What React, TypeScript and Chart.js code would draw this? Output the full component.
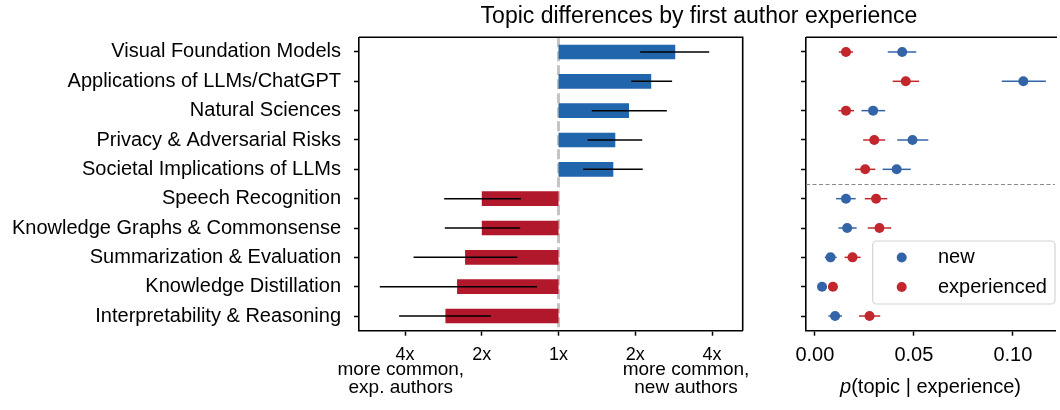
import React, { useEffect, useRef } from 'react';
import { Chart, registerables } from 'chart.js';

Chart.register(...registerables);

// ---------- data ----------
const categories = [
  'Visual Foundation Models',
  'Applications of LLMs/ChatGPT',
  'Natural Sciences',
  'Privacy & Adversarial Risks',
  'Societal Implications of LLMs',
  'Speech Recognition',
  'Knowledge Graphs & Commonsense',
  'Summarization & Evaluation',
  'Knowledge Distillation',
  'Interpretability & Reasoning',
];

// ratio p(new)/p(experienced)
const ratio = [2.87, 2.31, 1.89, 1.67, 1.64, 0.5, 0.5, 0.43, 0.4, 0.36];
const ratioLow = [2.09, 1.93, 1.35, 1.3, 1.25, 0.356, 0.358, 0.27, 0.199, 0.237];
const ratioHigh = [3.9, 2.79, 2.66, 2.13, 2.14, 0.712, 0.707, 0.69, 0.823, 0.543];

const ratioTickValues = [0.25, 0.5, 1, 2, 4];
const ratioTickLabels = ['4x', '2x', '1x', '2x', '4x'];

const pNew = [0.0441, 0.1053, 0.0294, 0.0493, 0.0413, 0.0157, 0.0163, 0.0079, 0.0036, 0.0102];
const pNewLow = [0.0368, 0.0944, 0.0235, 0.0416, 0.0342, 0.0107, 0.0119, 0.005, 0.0013, 0.0068];
const pNewHigh = [0.0512, 0.1167, 0.0355, 0.0573, 0.0484, 0.0206, 0.0211, 0.011, 0.0061, 0.0137];

const pExp = [0.0157, 0.0459, 0.0157, 0.03, 0.0254, 0.0309, 0.0326, 0.019, 0.0091, 0.0276];
const pExpLow = [0.0121, 0.0393, 0.0119, 0.0244, 0.0203, 0.0252, 0.0267, 0.015, 0.0066, 0.0223];
const pExpHigh = [0.0193, 0.0527, 0.0198, 0.0355, 0.0305, 0.0366, 0.0385, 0.0231, 0.0116, 0.033];

const pTickValues = [0, 0.05, 0.1];

const seriesNames = ['new', 'experienced'];

// ---------- styles ----------
const FONT = "'Liberation Sans', Arial, Helvetica, sans-serif";
const BLUE_BAR = '#2166ac';
const RED_BAR = '#b2182b';
const BLUE_PT = '#3464a8';
const RED_PT = '#c1272d';
const SPINE = 1.6;

const leftPlugin = {
  id: 'leftDeco',
  beforeDatasetsDraw(chart: any) {
    const { ctx, chartArea } = chart;
    const x = chart.scales.x.getPixelForValue(1);
    ctx.save();
    ctx.strokeStyle = '#c4c4c4';
    ctx.lineWidth = 3;
    ctx.setLineDash([10, 4]);
    ctx.beginPath();
    ctx.moveTo(x, chartArea.top);
    ctx.lineTo(x, chartArea.bottom);
    ctx.stroke();
    ctx.restore();
  },
  afterDatasetsDraw(chart: any) {
    const { ctx, chartArea } = chart;
    const xs = chart.scales.x;
    const ys = chart.scales.y;
    ctx.save();
    ctx.strokeStyle = '#000';
    ctx.lineWidth = 1.5;
    categories.forEach((_, i) => {
      const y = ys.getPixelForValue(i);
      ctx.beginPath();
      ctx.moveTo(xs.getPixelForValue(ratioLow[i]), y);
      ctx.lineTo(xs.getPixelForValue(ratioHigh[i]), y);
      ctx.stroke();
    });
    // top and right spines
    ctx.lineWidth = SPINE;
    ctx.beginPath();
    ctx.moveTo(chartArea.left, chartArea.top);
    ctx.lineTo(chartArea.right, chartArea.top);
    ctx.lineTo(chartArea.right, chartArea.bottom);
    ctx.stroke();
    ctx.restore();
  },
  afterDraw(chart: any) {
    const { ctx, chartArea } = chart;
    ctx.save();
    ctx.fillStyle = '#000';
    ctx.font = `19px ${FONT}`;
    ctx.textAlign = 'center';
    ctx.textBaseline = 'alphabetic';
    const lx = chartArea.left + 41.8;
    const rx = chartArea.right - 56.7;
    ctx.fillText('more common,', lx, 374.5);
    ctx.fillText('exp. authors', lx, 393);
    ctx.fillText('more common,', rx, 374.5);
    ctx.fillText('new authors', rx, 393);
    ctx.restore();
  },
};

const pLow = [pNewLow, pExpLow];
const pHigh = [pNewHigh, pExpHigh];

const rightPlugin = {
  id: 'rightDeco',
  beforeDatasetsDraw(chart: any) {
    const { ctx, chartArea } = chart;
    const xs = chart.scales.x;
    const ys = chart.scales.y;
    ctx.save();
    // dashed separator
    const ySep = Math.round(ys.getPixelForValue(4.5)) + 0.5;
    ctx.strokeStyle = '#8a8a8a';
    ctx.lineWidth = 1;
    ctx.setLineDash([4, 2.5]);
    ctx.beginPath();
    ctx.moveTo(chartArea.left, ySep);
    ctx.lineTo(chartArea.right, ySep);
    ctx.stroke();
    ctx.setLineDash([]);
    // error bars
    chart.data.datasets.forEach((ds: any, d: number) => {
      ctx.strokeStyle = ds.borderColor;
      ctx.lineWidth = 1.5;
      categories.forEach((_, i) => {
        const y = ys.getPixelForValue(i);
        ctx.beginPath();
        ctx.moveTo(xs.getPixelForValue(pLow[d][i]), y);
        ctx.lineTo(xs.getPixelForValue(pHigh[d][i]), y);
        ctx.stroke();
      });
    });
    ctx.restore();
  },
  afterDraw(chart: any) {
    const { ctx, chartArea } = chart;
    ctx.save();
    // top spine
    ctx.strokeStyle = '#000';
    ctx.lineWidth = SPINE;
    ctx.beginPath();
    ctx.moveTo(chartArea.left, chartArea.top);
    ctx.lineTo(chartArea.right + 2, chartArea.top);
    ctx.stroke();

    // legend
    const bx = 102.7, by = 241, bw = 182.3, bh = 63, r = 4;
    ctx.beginPath();
    ctx.moveTo(bx + r, by);
    ctx.arcTo(bx + bw, by, bx + bw, by + bh, r);
    ctx.arcTo(bx + bw, by + bh, bx, by + bh, r);
    ctx.arcTo(bx, by + bh, bx, by, r);
    ctx.arcTo(bx, by, bx + bw, by, r);
    ctx.closePath();
    ctx.fillStyle = 'rgba(255,255,255,0.8)';
    ctx.fill();
    ctx.strokeStyle = '#d4d4d4';
    ctx.lineWidth = 1.2;
    ctx.stroke();
    chart.data.datasets.forEach((ds: any, d: number) => {
      const y = 257.5 + d * 29.5;
      ctx.fillStyle = ds.backgroundColor;
      ctx.beginPath();
      ctx.arc(131.7, y, 5, 0, Math.PI * 2);
      ctx.fill();
      ctx.fillStyle = '#000';
      ctx.font = `20px ${FONT}`;
      ctx.textAlign = 'left';
      ctx.textBaseline = 'middle';
      ctx.fillText(ds.label, 168, y);
    });

    // x label: p(topic | experience)
    const cx = (chartArea.left + chartArea.right) / 2;
    ctx.fillStyle = '#000';
    ctx.textBaseline = 'alphabetic';
    ctx.textAlign = 'left';
    ctx.font = `italic 20px ${FONT}`;
    const wp = ctx.measureText('p').width;
    ctx.font = `20px ${FONT}`;
    const rest = '(topic | experience)';
    const wr = ctx.measureText(rest).width;
    const sx = cx - (wp + wr) / 2;
    ctx.font = `italic 20px ${FONT}`;
    ctx.fillText('p', sx, 392.7);
    ctx.font = `20px ${FONT}`;
    ctx.fillText(rest, sx + wp, 392.7);
    ctx.restore();
  },
};

export default function App() {
  const leftRef = useRef<HTMLCanvasElement>(null);
  const rightRef = useRef<HTMLCanvasElement>(null);

  useEffect(() => {
    const left = new Chart(leftRef.current as HTMLCanvasElement, {
      type: 'bar',
      data: {
        labels: categories,
        datasets: [
          {
            data: ratio.map((r) => [1, r]) as any,
            backgroundColor: ratio.map((r) => (r >= 1 ? BLUE_BAR : RED_BAR)),
            borderWidth: 0,
            barPercentage: 0.5,
            categoryPercentage: 1,
          },
        ],
      },
      options: {
        indexAxis: 'y',
        animation: false,
        responsive: false,
        layout: { padding: { top: 37.3, right: 27.3, left: 0, bottom: 0 } },
        plugins: { legend: { display: false }, tooltip: { enabled: false } },
        scales: {
          x: {
            type: 'logarithmic',
            min: Math.pow(2, -2.6),
            max: Math.pow(2, 2.4),
            afterBuildTicks: (s: any) => {
              s.ticks = ratioTickValues.map((v) => ({ value: v }));
            },
            afterFit: (s: any) => {
              s.height = 79.3;
            },
            ticks: {
              callback: (_v: any, i: number) => ratioTickLabels[i],
              font: { family: FONT, size: 18 },
              color: '#000',
              padding: 9,
              maxRotation: 0,
              autoSkip: false,
            },
            grid: {
              drawOnChartArea: false,
              drawTicks: true,
              tickLength: 5,
              tickColor: '#000',
              tickWidth: 1.5,
            },
            border: { display: true, color: '#000', width: SPINE },
          },
          y: {
            type: 'category',
            offset: true,
            afterFit: (s: any) => {
              s.width = 359;
            },
            ticks: {
              font: { family: FONT, size: 20 },
              color: '#000',
              padding: 13,
              autoSkip: false,
            },
            grid: {
              offset: false,
              drawOnChartArea: false,
              drawTicks: true,
              tickLength: 5,
              tickColor: '#000',
              tickWidth: 1.5,
            },
            border: { display: true, color: '#000', width: SPINE },
          },
        },
      } as any,
      plugins: [leftPlugin],
    });

    const right = new Chart(rightRef.current as HTMLCanvasElement, {
      type: 'scatter',
      data: {
        datasets: [
          {
            label: seriesNames[0],
            data: pNew.map((x, i) => ({ x, y: categories[i] })) as any,
            backgroundColor: BLUE_PT,
            borderColor: BLUE_PT,
            pointRadius: 5,
            pointBorderWidth: 0,
          },
          {
            label: seriesNames[1],
            data: pExp.map((x, i) => ({ x, y: categories[i] })) as any,
            backgroundColor: RED_PT,
            borderColor: RED_PT,
            pointRadius: 5,
            pointBorderWidth: 0,
          },
        ],
      },
      options: {
        animation: false,
        responsive: false,
        layout: { padding: { top: 37.3, right: 0, left: 0, bottom: 0 } },
        plugins: { legend: { display: false }, tooltip: { enabled: false } },
        scales: {
          x: {
            type: 'linear',
            min: -0.0045,
            max: 0.1213,
            afterBuildTicks: (s: any) => {
              s.ticks = pTickValues.map((v) => ({ value: v }));
            },
            afterFit: (s: any) => {
              s.height = 79.3;
            },
            ticks: {
              callback: (v: any) => Number(v).toFixed(2),
              font: { family: FONT, size: 20 },
              color: '#000',
              padding: 8,
              maxRotation: 0,
              autoSkip: false,
            },
            grid: {
              drawOnChartArea: false,
              drawTicks: true,
              tickLength: 5,
              tickColor: '#000',
              tickWidth: 1.5,
            },
            border: { display: true, color: '#000', width: SPINE },
          },
          y: {
            type: 'category',
            labels: categories,
            offset: true,
            afterFit: (s: any) => {
              s.width = 36;
            },
            ticks: { display: false },
            grid: {
              offset: false,
              drawOnChartArea: false,
              drawTicks: true,
              tickLength: 5,
              tickColor: '#000',
              tickWidth: 1.5,
            },
            border: { display: true, color: '#000', width: SPINE },
          },
        },
      } as any,
      plugins: [rightPlugin],
    });

    return () => {
      left.destroy();
      right.destroy();
    };
  }, []);

  return (
    <div
      style={{
        position: 'fixed',
        left: 0,
        top: 0,
        width: 1060,
        height: 410,
        overflow: 'hidden',
        background: '#fff',
      }}
    >
      <canvas
        ref={leftRef}
        width={770}
        height={410}
        style={{ position: 'absolute', left: 0, top: 0, width: 770, height: 410 }}
      />
      <canvas
        ref={rightRef}
        width={290}
        height={410}
        style={{ position: 'absolute', left: 770, top: 0, width: 290, height: 410 }}
      />
      <div
        style={{
          position: 'absolute',
          left: 699,
          top: 4.2,
          transform: 'translateX(-50%)',
          whiteSpace: 'nowrap',
          font: `23px ${FONT}`,
          lineHeight: '23px',
          color: '#000',
        }}
      >
        Topic differences by first author experience
      </div>
    </div>
  );
}
